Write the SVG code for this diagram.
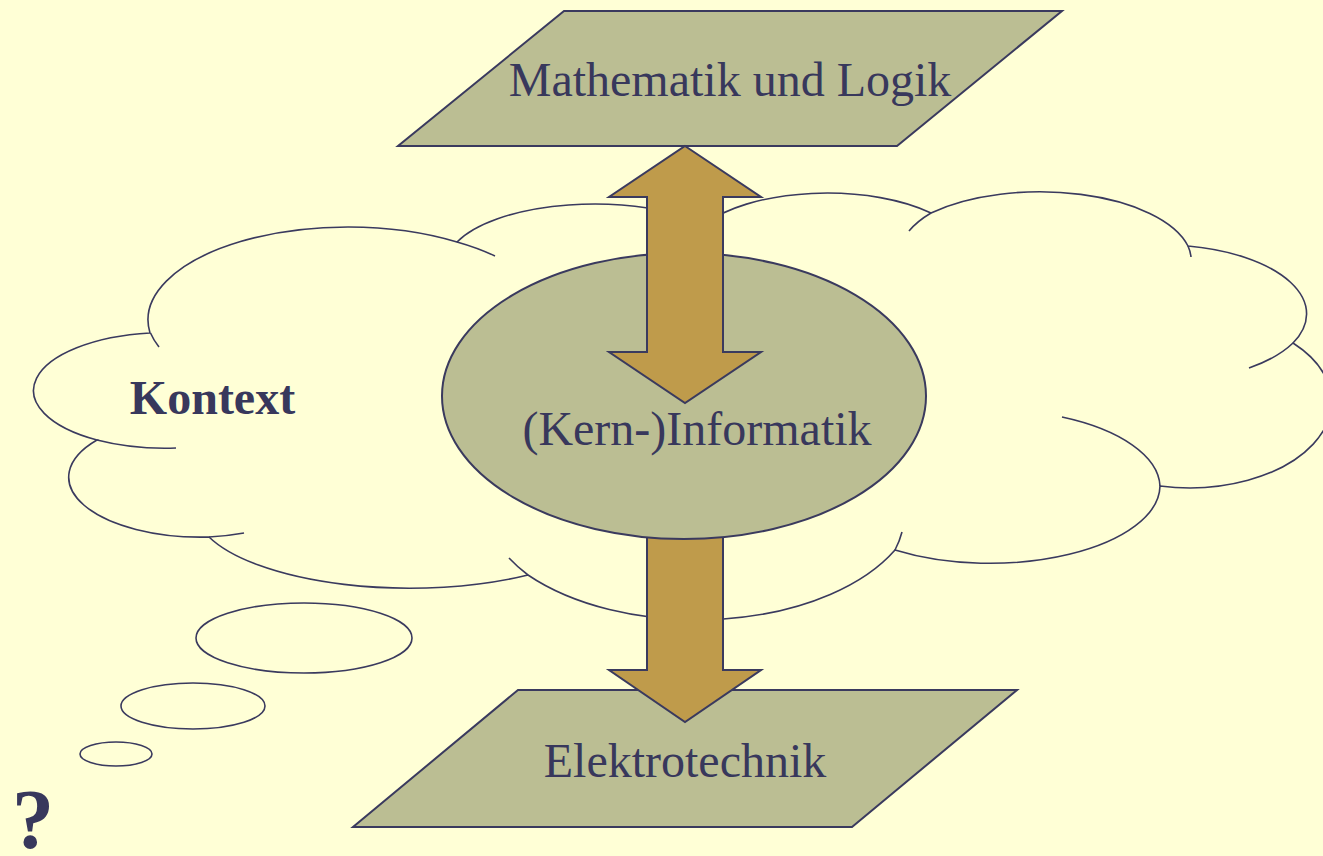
<svg xmlns="http://www.w3.org/2000/svg" width="1323" height="856" viewBox="0 0 1323 856">
<style>
.ln{stroke:#3A3A5E;stroke-width:1.6;fill:none}
.cl{stroke:#3A3A5E;stroke-width:1.6;fill:#FFFFD6}
.sh{stroke:#3A3A5E;stroke-width:2;fill:#BBBE93;stroke-linejoin:miter}
.ar{stroke:#3A3A5E;stroke-width:2;fill:#BF9B4B;stroke-linejoin:miter}
.tx{font-family:"Liberation Serif","Times New Roman",serif;font-size:48px;fill:#38385C;text-anchor:middle}
.bd{font-weight:bold}
.q{font-size:84px}
</style>
<rect width="1323" height="856" fill="#FFFFD6"/>
<g id="kontext">
<path class="cl" d="M150,333 A200 93 0 0 1 457,242 A148 60 0 0 1 705,224 A140 60.5 0 0 1 931,213 A152 70 0 0 1 1188,246 A145 69 0 0 1 1293,343 A142 86 0 0 1 1160,486 A170 78 0 0 1 895,550 A221 126 0 0 1 528,575 A215 80 0 0 1 209,537 A132 60 0 0 1 97,440 A133 58 0 0 1 150,333 Z"/>
<path class="ln" d="M159,347 A200 93 0 0 1 150.5,333 M457,242 A200 93 0 0 1 495,256 M176,448 A133 58 0 0 1 97,440 M244,533 A132 60 0 0 1 209,537 M528,575 A221 126 0 0 1 509,558 M902,532 A221 126 0 0 1 895,550 M1062,417 A170 78 0 0 1 1160,486 M1293,343 A145 69 0 0 1 1249,368 M1188,246 A152 70 0 0 1 1191,257 M909,231 A152 70 0 0 1 931,213"/>
<text class="tx bd" x="212.5" y="414">Kontext</text>
</g>
<g id="bubbles">
<ellipse class="cl" cx="304" cy="638" rx="108" ry="35"/>
<ellipse class="cl" cx="193" cy="706" rx="72" ry="23"/>
<ellipse class="cl" cx="116" cy="754" rx="36" ry="12"/>
</g>
<g id="question">
<text class="tx bd q" x="33" y="848">?</text>
</g>
<g id="elektrotechnik">
<polygon class="sh" points="518,690 1017,690 852,827 353,827"/>
<text class="tx" x="685" y="777">Elektrotechnik</text>
</g>
<g id="mathematik">
<polygon class="sh" points="564,11 1062,11 897,146 398,146"/>
<text class="tx" x="730" y="96">Mathematik und Logik</text>
</g>
<g id="connectors">
<polygon id="arrow-ie" class="ar" points="647,528 723,528 723,670 761,670 685,722 609,670 647,670"/>
</g>
<g id="informatik">
<ellipse class="sh" cx="684" cy="396" rx="242" ry="143"/>
<text class="tx" x="697" y="445">(Kern-)Informatik</text>
</g>
<g id="connectors-top">
<polygon id="arrow-mi" class="ar" points="685,146 761,197 723,197 723,352 761,352 685,403 609,352 647,352 647,197 609,197"/>
</g>
</svg>
